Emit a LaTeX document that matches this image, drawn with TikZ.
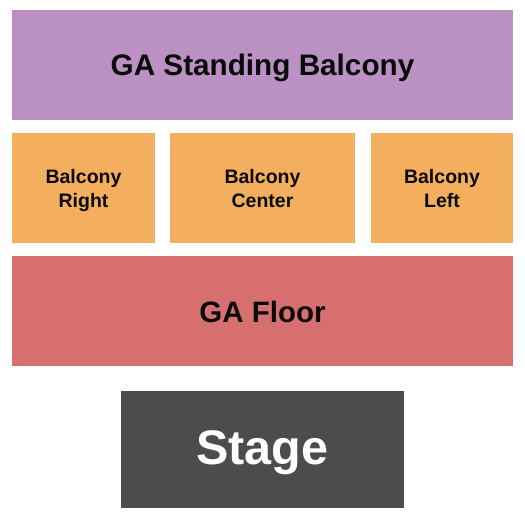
\documentclass[tikz,border=0pt]{standalone}
\usepackage{fontspec}
\setmainfont{Liberation Sans}
\definecolor{cPurple}{HTML}{BB91C4}
\definecolor{cOrange}{HTML}{F3AE5E}
\definecolor{cRed}{HTML}{D66F6D}
\definecolor{cStage}{HTML}{4D4B4E}
\definecolor{cText}{HTML}{0A0A0A}
\tikzset{
  sect/.style={draw=none, inner sep=0pt, outer sep=0pt, anchor=north west},
  lab/.style={font=\bfseries, text=cText, align=center, inner sep=0pt},
}
\begin{document}
\begin{tikzpicture}[x=1pt,y=-1pt]
\useasboundingbox (0,0) rectangle (525,525);
\fill[white] (0,0) rectangle (525,525);
\node[sect, fill=cPurple, minimum width=501pt, minimum height=110pt] (gasb) at (12,10) {};
\node[sect, fill=cOrange, minimum width=143pt, minimum height=110pt] (br) at (12,133) {};
\node[sect, fill=cOrange, minimum width=185pt, minimum height=110pt] (bc) at (170,133) {};
\node[sect, fill=cOrange, minimum width=142pt, minimum height=110pt] (bl) at (371,133) {};
\node[sect, fill=cRed, minimum width=501pt, minimum height=110pt] (gaf) at (12,256) {};
\node[sect, fill=cStage, minimum width=283pt, minimum height=117pt] (stage) at (121,391) {};
\node[lab, font=\bfseries\fontsize{29.7}{30}\selectfont, anchor=base] (t1) at (262.5,75) {GA Standing Balcony};
\node[lab, font=\bfseries\fontsize{19.5}{24}\selectfont, anchor=base] (t2) at ([yshift=-19.5pt]br.center) {Balcony\\Right};
\node[lab, font=\bfseries\fontsize{19.5}{24}\selectfont, anchor=base] (t3) at ([yshift=-19.5pt]bc.center) {Balcony\\Center};
\node[lab, font=\bfseries\fontsize{19.5}{24}\selectfont, anchor=base] (t4) at ([yshift=-19.5pt]bl.center) {Balcony\\Left};
\node[lab, font=\bfseries\fontsize{29.5}{30}\selectfont, anchor=base] (t5) at (262.5,322) {GA Floor};
\node[lab, font=\bfseries\fontsize{48.5}{50}\selectfont, text=white, anchor=base] (t6) at (262.5,464) {Stage};
\end{tikzpicture}
\end{document}
